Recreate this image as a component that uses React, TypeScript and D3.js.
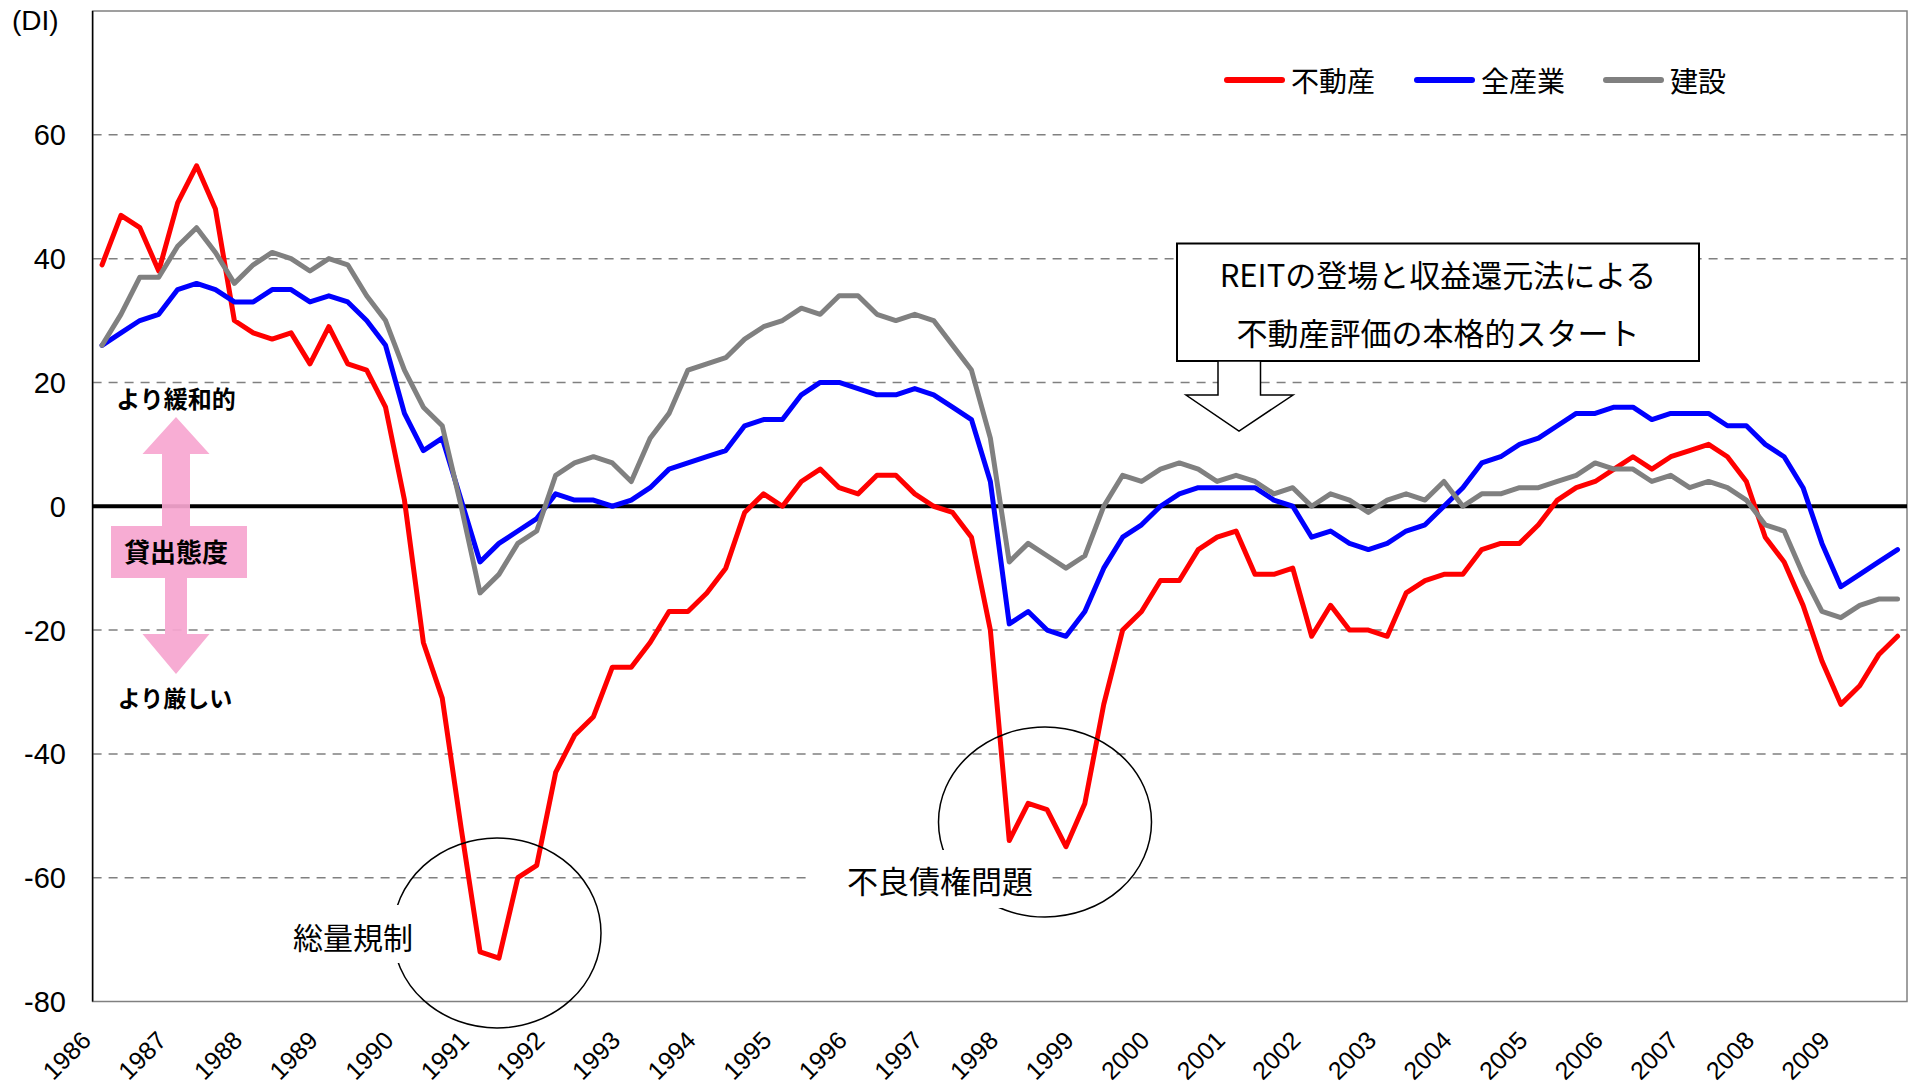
import * as d3 from 'd3';
import React from 'react';

// 日銀短観 金融機関の貸出態度判断DI (四半期, 1986Q1〜2009Q4)
const years = [1986, 1987, 1988, 1989, 1990, 1991, 1992, 1993, 1994, 1995, 1996, 1997,
  1998, 1999, 2000, 2001, 2002, 2003, 2004, 2005, 2006, 2007, 2008, 2009];
const quarters = ['Q1', 'Q2', 'Q3', 'Q4'];
const categories = years.flatMap((y) => quarters.map((q) => `${y}${q}`));

const realEstate = [
  39, 47, 45, 38, 49, 55, 48, 30, 28, 27, 28, 23, 29, 23, 22, 16,
  1, -22, -31, -52, -72, -73, -60, -58, -43, -37, -34, -26, -26, -22, -17, -17,
  -14, -10, -1, 2, 0, 4, 6, 3, 2, 5, 5, 2, 0, -1, -5, -20,
  -54, -48, -49, -55, -48, -32, -20, -17, -12, -12, -7, -5, -4, -11, -11, -10,
  -21, -16, -20, -20, -21, -14, -12, -11, -11, -7, -6, -6, -3, 1, 3, 4,
  6, 8, 6, 8, 9, 10, 8, 4, -5, -9, -16, -25, -32, -29, -24, -21,
];
const allIndustries = [
  26, 28, 30, 31, 35, 36, 35, 33, 33, 35, 35, 33, 34, 33, 30, 26,
  15, 9, 11, 1, -9, -6, -4, -2, 2, 1, 1, 0, 1, 3, 6, 7,
  8, 9, 13, 14, 14, 18, 20, 20, 19, 18, 18, 19, 18, 16, 14, 4,
  -19, -17, -20, -21, -17, -10, -5, -3, 0, 2, 3, 3, 3, 3, 1, 0,
  -5, -4, -6, -7, -6, -4, -3, 0, 3, 7, 8, 10, 11, 13, 15, 15,
  16, 16, 14, 15, 15, 15, 13, 13, 10, 8, 3, -6, -13, -11, -9, -7,
];
const construction = [
  26, 31, 37, 37, 42, 45, 41, 36, 39, 41, 40, 38, 40, 39, 34, 30,
  22, 16, 13, 0, -14, -11, -6, -4, 5, 7, 8, 7, 4, 11, 15, 22,
  23, 24, 27, 29, 30, 32, 31, 34, 34, 31, 30, 31, 30, 26, 22, 11,
  -9, -6, -8, -10, -8, 0, 5, 4, 6, 7, 6, 4, 5, 4, 2, 3,
  0, 2, 1, -1, 1, 2, 1, 4, 0, 2, 2, 3, 3, 4, 5, 7,
  6, 6, 4, 5, 3, 4, 3, 1, -3, -4, -11, -17, -18, -16, -15, -15,
];
const yTicks = [-80, -60, -40, -20, 0, 20, 40, 60];

const series = [
  { name: '不動産', values: realEstate, color: '#ff0000' },
  { name: '全産業', values: allIndustries, color: '#0000ff' },
  { name: '建設', values: construction, color: '#808080' },
];

const W = 1910;
const H = 1091;
const left = 92.6;
const right = 1907;
const top = 11;
const bottom = 1001.5;
const numFont = '"Liberation Sans", Arial, sans-serif';
const jpFont = '"Noto Sans CJK JP", "Noto Sans", sans-serif';

export default function App() {
  const x = d3.scaleBand().domain(categories).range([left, right]);
  const y = d3.scaleLinear().domain([-80, 80]).range([bottom, top]);
  const cx = (i: number) => (x(categories[i]) as number) + x.bandwidth() / 2;
  const line = d3
    .line<number>()
    .x((d, i) => cx(i))
    .y((d) => y(d));

  const legendX = [1227, 1417, 1606];

  return (
    <svg
      width={W}
      height={H}
      viewBox={`0 0 ${W} ${H}`}
      style={{ position: 'absolute', left: 0, top: 0, background: '#fff' }}
    >
      <rect x={0} y={0} width={W} height={H} fill="#fff" />

      {/* grid */}
      {yTicks
        .filter((t) => t !== 0 && t !== -80)
        .map((t) => (
          <line
            key={t}
            x1={left}
            x2={right}
            y1={y(t)}
            y2={y(t)}
            stroke="#808080"
            strokeWidth={1.5}
            strokeDasharray="9,7"
          />
        ))}
      <rect x={left} y={top} width={right - left} height={bottom - top} fill="none" stroke="#808080" strokeWidth={1.5} />
      <line x1={left} x2={left} y1={top} y2={bottom} stroke="#000" strokeWidth={1.5} />
      <line x1={left} x2={right} y1={y(0)} y2={y(0)} stroke="#000" strokeWidth={4} />

      {/* y labels */}
      <text x={12} y={30} fontFamily={numFont} fontSize={28} fill="#000">(DI)</text>
      {yTicks.map((t) => (
        <text
          key={t}
          x={66}
          y={y(t)}
          dy="0.36em"
          textAnchor="end"
          fontFamily={numFont}
          fontSize={29}
          fill="#000"
        >
          {t}
        </text>
      ))}

      {/* x labels */}
      {years.map((yr) => {
        const px = x(`${yr}Q1`) as number;
        return (
          <text
            key={yr}
            transform={`translate(${px},1042) rotate(-45)`}
            textAnchor="end"
            fontFamily={numFont}
            fontSize={25}
            fill="#000"
          >
            {yr}
          </text>
        );
      })}

      {/* series */}
      {series.map((s) => (
        <path
          key={s.name}
          d={line(s.values) || ''}
          fill="none"
          stroke={s.color}
          strokeWidth={5}
          strokeLinejoin="round"
          strokeLinecap="round"
        />
      ))}

      {/* legend */}
      {series.map((s, i) => (
        <g key={s.name}>
          <line x1={legendX[i]} x2={legendX[i] + 55} y1={80} y2={80} stroke={s.color} strokeWidth={6} strokeLinecap="round" />
          <text x={legendX[i] + 64} y={92} fontFamily={jpFont} fontSize={28} fill="#000">
            {s.name}
          </text>
        </g>
      ))}

      {/* REIT annotation */}
      <rect x={1177} y={243.5} width={522} height={117.5} fill="#fff" stroke="#000" strokeWidth={2} />
      <text x={1438} y={287} textAnchor="middle" fontFamily={jpFont} fontSize={31} fill="#000">
        REITの登場と収益還元法による
      </text>
      <text x={1438} y={345} textAnchor="middle" fontFamily={jpFont} fontSize={31} fill="#000">
        不動産評価の本格的スタート
      </text>
      <polygon
        points="1218,361 1260.5,361 1260.5,395 1293,395 1239,431 1186,395 1218,395"
        fill="#fff"
        stroke="#000"
        strokeWidth={1.5}
      />

      {/* ellipses */}
      <ellipse cx={497} cy={933} rx={104} ry={95} fill="none" stroke="#000" strokeWidth={1.5} />
      <rect x={282} y={905} width={125} height={58} fill="#fff" />
      <text x={353} y={949} textAnchor="middle" fontFamily={jpFont} fontSize={30} fill="#000">
        総量規制
      </text>
      <ellipse cx={1045} cy={822} rx={106.5} ry={95} fill="none" stroke="#000" strokeWidth={1.5} />
      <rect x={810} y={850} width={238} height={58} fill="#fff" />
      <text x={940} y={893} textAnchor="middle" fontFamily={jpFont} fontSize={31} fill="#000">
        不良債権問題
      </text>

      {/* lending attitude arrow */}
      <g fill="#f7a6d0" opacity={0.92}>
        <polygon points="176,417 209.5,454 190,454 190,526 162,526 162,454 142.5,454" />
        <polygon points="165,578 187,578 187,634 209.5,634 176,674 142.5,634 165,634" />
        <rect x={111} y={526} width={136} height={52} />
      </g>
      <text x={176} y={562} textAnchor="middle" fontFamily={jpFont} fontWeight={700} fontSize={26} fill="#000">
        貸出態度
      </text>
      <text x={176} y={408} textAnchor="middle" fontFamily={jpFont} fontWeight={700} fontSize={24} fill="#000">
        より緩和的
      </text>
      <text x={175} y={707} textAnchor="middle" fontFamily={jpFont} fontWeight={700} fontSize={23} fill="#000">
        より厳しい
      </text>
    </svg>
  );
}
